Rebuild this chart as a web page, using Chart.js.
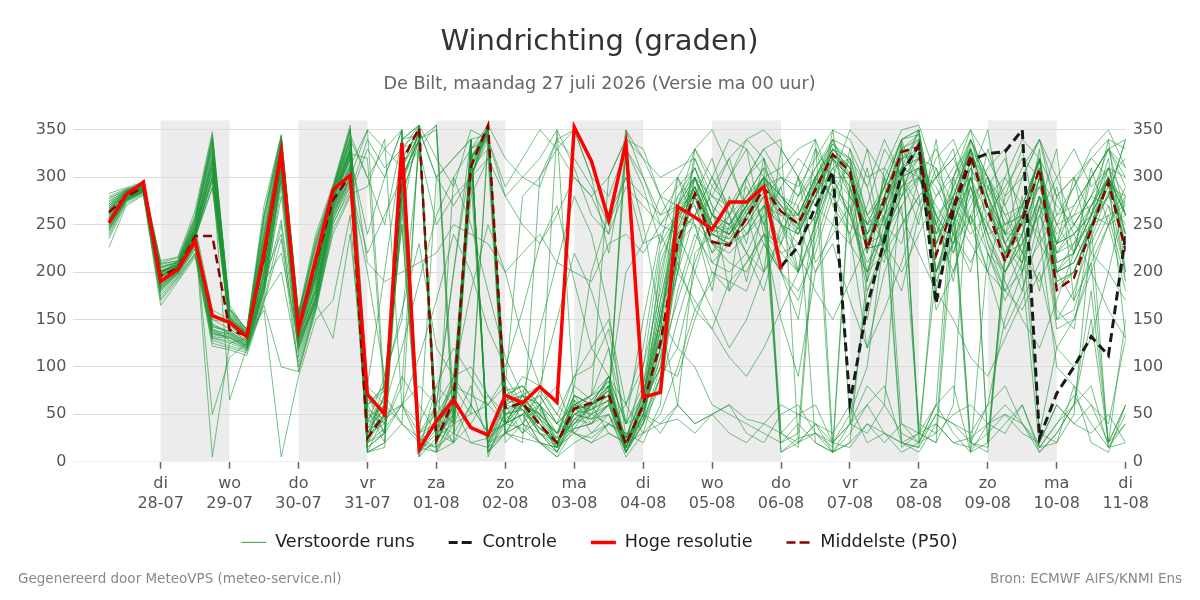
<!DOCTYPE html>
<html>
<head>
<meta charset="utf-8">
<script src="https://cdn.jsdelivr.net/npm/chart.js@4.4.1/dist/chart.umd.min.js"></script>
<style>
  html, body { margin: 0; padding: 0; background: #fff; }
  #grafiek { display: block; }
</style>
</head>
<body>
<canvas id="grafiek" width="1200" height="600"></canvas>
<script>
// tijd in uren t.o.v. 28-07 00:00, eerste waarde 27-07 06:00, stap 6 uur
const startUur = -18;
const stapUur = 6;

const dagUren = [0, 24, 48, 72, 96, 120, 144, 168, 192, 216, 240, 264, 288, 312, 336];
const dagNamen = ['di', 'wo', 'do', 'vr', 'za', 'zo', 'ma', 'di', 'wo', 'do', 'vr', 'za', 'zo', 'ma', 'di'];
const dagDatums = ['28-07', '29-07', '30-07', '31-07', '01-08', '02-08', '03-08', '04-08',
                   '05-08', '06-08', '07-08', '08-08', '09-08', '10-08', '11-08'];
const gearceerdeDagen = [0, 48, 96, 144, 192, 240, 288];
const yTicks = [0, 50, 100, 150, 200, 250, 300, 350];

const hogeResolutie = [252, 282, 295, 190, 203, 233, 154, 147, 132, 220, 327, 139, 213, 287, 302,
  71, 50, 336, 13, 43, 65, 36, 28, 70, 62, 79, 63, 353, 317, 255,
  336, 68, 73, 269, 258, 245, 274, 274, 290, 203];

const controle = [null, null, null, null, null, null, null, null, null, null, null, null, null, null, null,
  null, null, null, null, null, null, null, null, null, null, null, null, null, null, null,
  null, null, null, null, null, null, null, null, null, 206, 227, 269, 306, 62, 164,
  234, 304, 334, 167, 266, 318, 325, 327, 350, 25, 72, 100, 132, 112, 239];

const mediaan = [263, 280, 289, 196, 204, 238, 238, 139, 133, 215, 325, 140, 210, 276, 302,
  25, 50, 316, 352, 23, 65, 311, 355, 57, 62, 39, 20, 56, 62, 71,
  18, 60, 125, 231, 283, 232, 228, 257, 289, 264, 251, 287, 324, 306, 224,
  276, 327, 332, 218, 269, 323, 266, 211, 255, 309, 181, 194, 245, 295, 222];

const verstoordeRuns = [
  [270,285,292,200,208,245,320,150,130,220,330,145,200,280,330, 40,60,320,350,30,70,320,355,60,70,45,20,60,55,80, 15,60,140,300,250,180,280,230,320,200,150,260,340,280,190, 310,280,340,260,190,300,350,240,210,270,330,170,260,320,190],
  [255,280,290,190,205,235,300,140,128,200,320,135,190,275,320, 25,45,300,10,20,60,340,15,50,55,30,10,45,60,70, 330,80,200,270,300,250,240,270,300,30,15,250,320,290,200, 260,320,340,240,280,330,20,220,240,300,210,220,260,300,240],
  [280,288,294,205,210,250,340,160,135,250,340,150,210,285,345, 300,250,340,355,320,290,350,340,280,300,320,350,310,260,240, 350,300,260,290,310,270,250,280,310,280,260,300,330,320,250, 290,340,350,250,300,340,290,240,270,320,200,220,270,310,260],
  [245,278,286,185,200,230,145,135,125,190,315,130,180,270,310, 15,30,60,20,40,90,60,30,40,50,20,5,35,40,60, 10,40,90,180,240,210,200,220,260,30,20,40,10,30,60, 80,20,15,50,40,20,60,150,200,15,40,60,150,20,60],
  [265,283,290,198,212,255,330,155,140,240,335,150,220,290,340, 60,80,280,340,10,50,300,350,50,65,40,15,70,60,90, 20,100,220,260,290,240,235,255,285,260,240,280,320,300,220, 300,340,30,20,250,320,300,230,200,280,240,260,300,330,290],
  [250,276,285,180,198,225,140,128,120,180,300,120,170,265,300, 350,70,40,20,60,200,340,10,40,60,50,30,80,200,260, 300,230,280,300,270,220,260,300,320,250,200,300,340,330,260, 280,300,320,200,250,300,230,200,230,280,220,250,280,330,300],
  [275,286,293,210,215,260,345,165,138,260,342,155,230,288,350, 80,200,330,5,25,40,320,350,70,80,60,20,50,45,60, 15,50,120,200,300,260,250,280,310,20,30,260,310,320,150, 240,330,30,20,60,340,300,250,260,320,200,210,250,290,240],
  [240,275,284,175,195,220,130,125,118,175,290,110,165,255,295, 10,20,350,30,40,60,20,15,30,60,70,40,60,70,120, 40,70,160,210,320,270,180,300,250,290,200,330,270,240,310, 220,340,280,300,330,250,200,280,330,240,290,220,310,250,280],
  [260,282,289,195,205,240,310,148,132,215,325,140,195,278,325, 320,60,300,340,50,20,310,330,40,50,20,10,50,45,50, 20,60,100,230,280,210,230,250,270,260,260,300,330,40,30, 60,310,330,200,260,330,280,210,270,320,230,240,260,280,340],
  [268,284,291,202,208,248,160,150,135,230,330,145,205,282,335, 30,40,80,340,355,40,50,340,60,30,45,350,60,30,40, 25,70,170,260,270,220,240,260,300,280,270,20,10,290,240, 290,340,345,230,280,20,15,200,240,330,150,180,235,285,200],
  [235,272,282,170,192,218,125,120,115,170,250,100,160,250,290, 200,90,250,20,10,300,330,355,30,40,60,40,60,70,80, 10,50,110,170,230,290,320,260,200,330,300,250,350,230,270, 330,300,250,340,220,270,310,330,200,270,230,300,260,340,200],
  [283,289,295,212,216,265,348,160,140,270,345,158,240,292,355, 45,65,330,340,350,30,340,345,75,80,55,25,40,60,75, 25,75,130,200,330,300,260,190,270,230,300,340,290,260,330, 250,300,350,180,300,250,330,270,220,300,250,220,300,330,260],
  [258,280,288,192,204,238,295,145,130,205,318,138,190,275,318, 60,30,290,10,30,50,300,20,50,60,40,15,45,55,65, 10,45,150,120,200,260,300,330,240,150,90,200,250,330,290, 220,180,260,310,240,200,290,320,250,180,280,300,220,200,280],
  [262,281,290,196,206,242,150,140,128,200,310,130,185,270,312, 350,330,310,345,40,80,50,60,80,280,300,330,350,300,220, 320,250,150,60,40,50,60,30,20,50,60,30,20,40,80, 60,30,20,50,40,30,60,80,40,20,60,40,60,20,40],
  [272,286,292,204,210,252,335,152,136,235,336,148,215,285,342, 30,50,340,355,20,60,330,5,55,60,35,20,55,50,60, 330,300,250,280,300,230,210,200,240,230,200,250,300,280,250, 250,290,300,260,230,280,250,220,230,260,220,240,260,250,260],
  [248,277,286,184,200,230,135,132,122,185,305,125,175,268,305, 20,85,160,230,120,90,180,250,200,130,80,150,220,180,120, 10,50,120,210,160,190,250,220,180,250,300,210,240,270,190, 250,230,300,250,200,260,300,230,180,260,300,250,230,270,200],
  [256,279,287,190,203,236,290,142,131,210,322,136,195,276,322, 240,300,350,30,60,200,320,340,290,320,350,330,300,280,300, 340,320,300,310,320,280,260,300,330,300,290,320,350,340,300, 310,350,355,300,320,350,320,280,300,340,260,270,300,330,310],
  [270,285,291,200,209,246,325,156,137,245,338,152,225,287,338, 70,50,60,40,80,120,90,60,40,70,80,60,40,50,90, 60,120,230,300,330,290,270,300,330,340,20,40,30,60,20, 30,10,20,60,30,10,40,30,60,15,20,80,20,10,60],
  [252,278,287,188,202,233,142,138,126,195,240,118,170,262,300, 55,20,280,25,40,70,300,350,20,40,75,50,30,20,40, 30,40,80,150,210,260,300,340,320,280,250,200,230,170,120, 160,210,270,320,340,290,240,190,150,120,170,220,260,300,320],
  [266,283,290,199,207,244,315,150,134,225,328,142,200,280,328, 10,15,320,350,25,65,330,340,70,55,35,25,80,65,85, 15,65,210,260,300,260,245,270,300,275,255,295,330,310,235, 210,330,320,280,300,350,280,240,300,340,280,300,320,340,330],
  [262,282,289,196,206,240,5,125,130,200,315,135,185,272,315, 30,70,250,5,60,40,80,20,65,60,50,30,60,70,300, 340,330,280,240,260,280,270,290,250,220,230,260,320,300,240, 260,310,320,230,250,310,280,240,250,290,250,260,270,300,260],
  [258,280,288,193,205,238,50,110,125,190,310,132,180,270,312, 50,40,300,340,30,90,310,350,40,70,60,15,65,40,80, 20,65,160,255,290,245,240,265,290,270,245,280,320,300,220, 300,40,20,60,300,330,250,210,280,30,20,50,240,300,130],
  [264,282,290,197,207,243,305,65,120,165,100,95,165,240,280, 330,300,350,20,40,30,60,340,80,40,30,10,40,60,70, 10,60,100,90,150,200,190,210,240,200,180,220,280,240,120, 200,250,280,160,200,260,200,140,180,240,100,80,60,40,130],
  [260,281,289,195,206,240,300,148,133,160,5,90,150,170,260, 20,60,40,350,300,320,340,20,30,40,20,15,30,20,30, 20,30,40,60,220,240,260,280,300,310,330,340,20,15,40, 30,20,10,40,20,15,30,50,40,10,30,60,80,15,40],
  [250,277,286,186,201,232,138,135,124,190,220,128,168,130,240, 60,75,310,345,35,55,315,350,55,65,50,20,60,55,70, 20,60,130,235,260,300,340,330,300,250,220,180,150,190,230, 280,330,300,270,240,210,250,300,340,320,280,240,200,160,130],
  [268,284,291,201,208,247,318,152,134,230,330,144,210,282,330, 210,190,200,210,220,250,240,230,200,220,240,210,200,190,230, 240,220,250,270,290,250,240,260,280,300,280,300,320,280,250, 290,310,300,260,280,300,290,260,270,290,230,240,270,290,280],
  [246,276,285,182,199,228,132,130,121,183,255,122,172,258,298, 15,30,340,15,10,20,340,10,30,25,20,5,20,30,50, 5,30,90,220,280,230,230,250,280,10,20,30,10,20,40, 20,40,30,60,80,10,20,40,60,10,30,60,180,20,60],
  [274,286,292,206,211,254,338,158,137,255,340,154,228,288,348, 40,90,150,330,355,60,280,320,30,50,70,40,90,100,140, 40,150,240,200,170,140,110,90,120,160,200,250,300,350,330, 300,260,220,180,150,110,90,130,170,210,250,290,330,350,310],
  [254,279,287,189,203,234,145,137,127,198,315,133,182,270,310, 65,55,295,350,30,45,300,345,60,70,40,20,50,60,80, 25,70,150,240,285,240,230,260,290,270,240,290,325,300,230, 240,280,310,260,230,260,220,180,160,200,120,100,130,200,170],
  [262,282,289,196,206,241,312,149,133,220,326,141,198,279,326, 80,60,340,10,80,60,330,20,60,90,80,50,90,120,150, 60,100,180,270,330,350,310,270,230,200,250,300,280,320,290, 340,300,270,300,320,280,300,270,310,340,300,330,290,310,280],
  [238,274,283,172,194,220,128,122,117,172,200,105,162,252,285, 340,310,330,350,300,270,300,355,320,300,290,340,320,290,250, 300,280,260,270,300,260,250,270,300,270,260,290,330,310,250, 270,330,345,240,290,330,270,220,260,320,210,220,260,300,260],
  [278,287,293,209,212,258,342,162,139,262,344,156,235,290,352, 20,30,300,340,25,50,320,350,40,35,20,15,35,40,50, 10,40,140,270,310,260,250,275,300,280,260,300,10,20,200, 260,15,30,200,260,10,220,200,240,30,120,150,210,20,150],
  [256,280,288,191,204,237,288,144,130,208,320,137,192,276,320, 45,60,260,355,20,70,310,345,50,55,30,20,65,50,65, 15,60,150,245,290,245,235,265,295,265,250,285,325,310,225, 230,300,310,290,250,300,240,250,260,240,200,230,250,260,270],
  [266,283,290,199,207,245,150,146,134,215,325,140,200,280,326, 30,50,330,20,15,45,340,10,45,60,45,30,50,55,65, 15,55,190,280,310,260,240,270,300,280,260,300,335,315,240, 280,335,20,30,280,330,270,230,260,320,200,210,250,300,230],
  [251,278,286,187,201,232,140,134,123,188,308,127,176,266,306, 55,45,60,80,60,90,100,70,40,50,60,30,70,60,90, 40,50,30,60,40,50,30,20,40,60,50,40,20,50,100, 240,300,310,200,240,300,230,180,220,280,150,160,220,260,190],
  [270,285,291,201,209,249,328,154,136,240,334,149,218,285,336, 25,70,290,350,20,60,300,355,65,70,45,10,55,60,75, 200,230,240,260,250,200,180,210,240,220,200,240,300,260,200, 240,280,300,250,220,290,240,200,230,280,230,250,280,270,240],
  [257,280,288,192,204,238,298,146,131,212,321,138,194,277,321, 70,30,340,345,40,20,60,30,40,70,60,40,30,25,40, 30,20,60,230,250,230,220,240,270,250,240,280,310,290,230, 270,320,325,220,270,330,270,220,250,310,190,200,245,300,225],
  [244,276,285,181,198,227,134,131,120,180,300,121,168,262,300, 10,50,310,355,10,40,320,345,30,60,40,15,70,45,60, 10,50,140,240,200,160,120,150,200,240,280,330,300,260,210, 240,270,300,330,290,250,280,300,270,230,200,170,210,250,290],
  [263,282,289,197,206,242,308,149,133,222,327,142,200,280,327, 35,55,325,10,35,70,320,15,60,55,35,20,55,60,70, 20,60,150,245,290,240,230,260,290,265,245,290,325,305,225, 230,310,350,200,230,300,260,230,210,320,160,140,250,280,340],
  [226,270,281,165,190,216,122,118,112,168,235,95,158,245,282, 290,340,60,30,50,80,70,60,90,60,50,30,40,60,80, 20,50,40,45,30,50,60,45,40,30,50,60,20,40,180, 230,290,310,190,230,290,220,170,210,270,140,150,200,250,180],
  [258,281,289,194,205,239,302,147,131,212,323,139,197,277,323, 20,35,60,110,170,240,200,140,100,160,230,270,190,120,90, 10,40,100,200,260,300,270,240,260,290,320,300,280,250,230, 260,290,320,310,270,240,260,290,320,300,270,250,280,310,300],
  [272,286,292,205,210,251,333,153,136,238,337,150,212,284,340, 300,330,350,20,300,320,340,10,30,20,300,340,350,300,280, 330,290,230,260,280,250,240,270,290,300,280,310,335,320,260, 290,340,350,250,290,340,300,250,270,320,220,230,270,300,260],
  [249,277,286,185,200,231,137,133,123,186,296,126,174,265,304, 70,40,90,60,30,20,40,70,50,30,60,80,30,50,40, 60,30,50,100,160,140,190,180,230,200,170,230,290,270,180, 220,270,40,30,50,60,40,50,30,20,60,40,30,50,20],
  [266,284,291,199,208,244,317,151,134,228,329,143,206,281,329, 35,70,330,355,40,60,330,345,80,60,30,15,55,70,90, 40,80,170,250,300,250,245,270,300,10,25,30,15,300,230, 270,320,330,230,270,20,10,220,255,310,180,200,245,300,225],
  [243,275,284,178,196,224,131,127,119,179,280,115,166,256,292, 220,260,300,330,250,280,300,320,280,250,230,260,300,280,240, 290,270,250,240,260,230,230,240,270,250,230,260,300,300,240, 270,310,320,240,260,310,270,240,240,300,200,210,250,280,250],
  [261,281,289,196,206,241,310,149,133,218,325,141,198,279,326, 45,30,300,15,45,70,310,355,65,75,50,30,70,60,75, 20,60,120,220,300,280,320,340,350,330,300,270,250,230,200, 220,250,280,300,260,230,200,180,200,230,260,290,320,300,270],
  [277,287,293,208,212,257,341,161,139,258,343,155,232,289,350, 10,20,40,25,15,30,20,25,40,60,30,25,35,60,30, 20,45,90,120,100,60,50,40,30,20,40,20,10,40,60, 30,20,30,40,20,25,40,60,40,15,40,70,40,15,50],
  [253,279,287,189,203,234,143,136,126,196,312,131,180,268,308, 60,80,280,340,20,55,300,340,40,50,40,20,45,40,60, 350,320,280,270,280,240,230,250,280,250,240,280,330,310,230, 280,330,340,230,270,340,280,230,260,320,190,200,250,310,240],
  [267,284,291,200,208,245,322,152,135,232,332,146,208,283,333, 20,50,270,10,40,80,320,350,70,80,60,20,50,65,85, 15,70,150,260,290,250,240,270,295,270,250,290,325,310,230, 270,20,15,230,280,330,20,215,260,320,185,200,250,15,20],
  [247,276,285,183,199,229,136,131,122,184,302,124,172,260,297, 30,60,120,190,260,300,250,180,110,70,140,210,280,240,160, 25,55,110,230,280,320,260,220,200,230,270,310,340,300,260, 230,200,240,280,310,330,300,260,220,190,230,270,300,330,340]
];

const punten = reeks => reeks.map((v, i) => ({ x: startUur + i * stapUur, y: v }));

const lettertype = "'DejaVu Sans', sans-serif";
Chart.defaults.font.family = lettertype;

const datasets = verstoordeRuns.map((reeks, i) => ({
  label: i === 0 ? 'Verstoorde runs' : 'run ' + (i + 1),
  data: punten(reeks),
  borderColor: 'rgba(30, 150, 55, 0.6)',
  borderWidth: 1,
  order: 4
}));
datasets.push({
  label: 'Controle',
  data: punten(controle),
  borderColor: '#1a1a1a',
  borderWidth: 3,
  borderDash: [9, 5],
  order: 3
});
datasets.push({
  label: 'Hoge resolutie',
  data: punten(hogeResolutie),
  borderColor: '#ff0000',
  borderWidth: 3.5,
  order: 1
});
datasets.push({
  label: 'Middelste (P50)',
  data: punten(mediaan),
  borderColor: '#8b0000',
  borderWidth: 2.5,
  borderDash: [9, 5],
  order: 2
});

// grijze banden voor om-en-om dagen
const dagBanden = {
  id: 'dagBanden',
  beforeDraw(chart) {
    const { ctx, chartArea, scales: { x } } = chart;
    ctx.save();
    ctx.fillStyle = '#ececec';
    gearceerdeDagen.forEach(h => {
      const x1 = x.getPixelForValue(h);
      const x2 = x.getPixelForValue(h + 24);
      ctx.fillRect(x1, chartArea.top, x2 - x1, chartArea.bottom - chartArea.top);
    });
    ctx.restore();
  }
};

const voettekst = {
  id: 'voettekst',
  afterDraw(chart) {
    const ctx = chart.ctx;
    ctx.save();
    ctx.font = '13.5px ' + lettertype;
    ctx.fillStyle = '#888';
    ctx.textBaseline = 'middle';
    ctx.textAlign = 'left';
    ctx.fillText('Gegenereerd door MeteoVPS (meteo-service.nl)', 18, 579);
    ctx.textAlign = 'right';
    ctx.fillText('Bron: ECMWF AIFS/KNMI Ens', 1182, 579);
    ctx.restore();
  }
};

new Chart(document.getElementById('grafiek'), {
  type: 'line',
  data: { datasets },
  options: {
    responsive: false,
    animation: false,
    devicePixelRatio: 1,
    layout: { padding: { left: 28.8, right: 29.8, top: 0, bottom: 38.8 } },
    elements: {
      point: { radius: 0, hoverRadius: 0 },
      line: { tension: 0, fill: false }
    },
    scales: {
      x: {
        type: 'linear',
        min: -30.4,
        max: 336,
        afterBuildTicks: s => { s.ticks = dagUren.map(v => ({ value: v })); },
        afterFit: s => {
          // legenda mag dichter onder de as staan; labels niet afknippen
          s.height = 37.9;
          s._computeLabelArea = () => null;
        },
        ticks: {
          autoSkip: false,
          maxRotation: 0,
          padding: 5.5,
          color: '#555',
          font: { size: 16, lineHeight: 1.25 },
          callback: (v, i) => [dagNamen[i], dagDatums[i]]
        },
        grid: { drawOnChartArea: false, drawTicks: true, tickLength: 7, tickColor: '#666', tickWidth: 1.5 },
        border: { display: false }
      },
      y: {
        position: 'left',
        min: 0,
        max: 360,
        afterBuildTicks: s => { s.ticks = yTicks.map(v => ({ value: v })); },
        ticks: { padding: 7, color: '#555', font: { size: 16 } },
        grid: { drawTicks: false, color: c => c.tick && c.tick.value === 0 ? '#f0f0f0' : '#dcdcdc' },
        border: { display: false }
      },
      y2: {
        position: 'right',
        min: 0,
        max: 360,
        afterBuildTicks: s => { s.ticks = yTicks.map(v => ({ value: v })); },
        ticks: { padding: 7, color: '#555', font: { size: 16 } },
        grid: { display: false, drawTicks: false },
        border: { display: false }
      }
    },
    plugins: {
      title: {
        display: true,
        text: 'Windrichting (graden)',
        color: '#333',
        font: { size: 29, weight: 'normal' },
        padding: { top: 25, bottom: 0 }
      },
      subtitle: {
        display: true,
        text: 'De Bilt, maandag 27 juli 2026 (Versie ma 00 uur)',
        color: '#666',
        font: { size: 17.6, weight: 'normal' },
        padding: { top: 14.4, bottom: 25.1 }
      },
      legend: {
        position: 'bottom',
        labels: {
          boxWidth: 25,
          boxHeight: 0,
          padding: 34,
          color: '#222',
          font: { size: 17.6 },
          filter: item => item.datasetIndex === 0 || item.datasetIndex >= verstoordeRuns.length,
          sort: (a, b) => a.datasetIndex - b.datasetIndex
        }
      },
      tooltip: { enabled: false }
    }
  },
  plugins: [dagBanden, voettekst]
});
</script>
</body>
</html>
